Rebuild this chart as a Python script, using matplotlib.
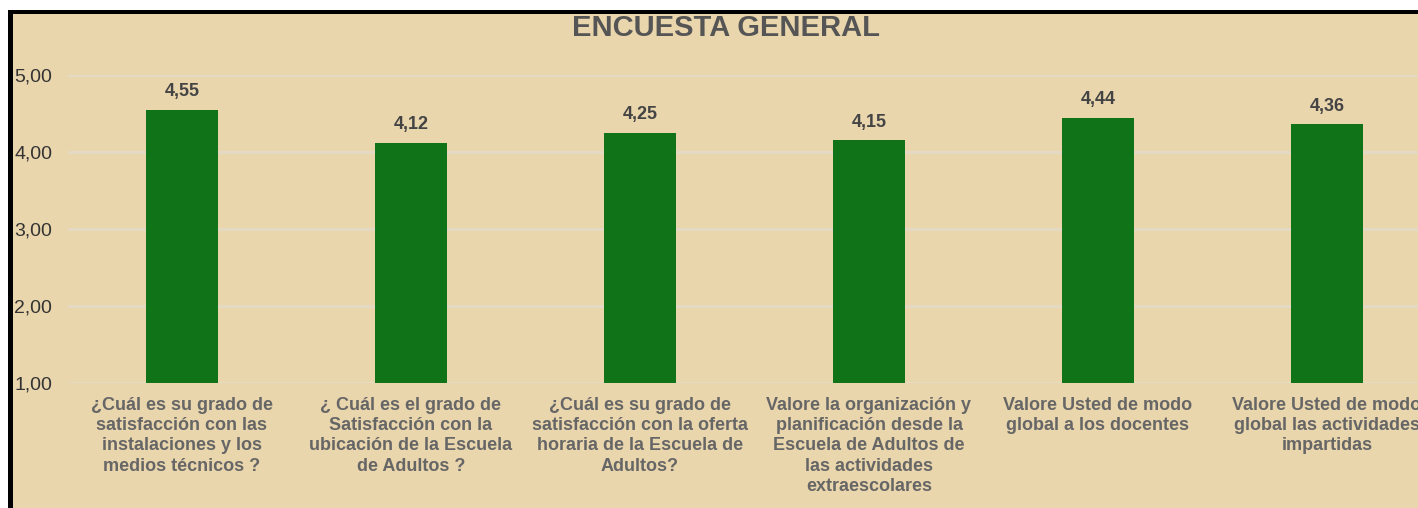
import matplotlib.pyplot as plt
from matplotlib.patches import Rectangle

categories = [
    "¿Cuál es su grado de\nsatisfacción con las\ninstalaciones y los\nmedios técnicos ?",
    "¿ Cuál es el grado de\nSatisfacción con la\nubicación de la Escuela\nde Adultos ?",
    "¿Cuál es su grado de\nsatisfacción con la oferta\nhoraria de la Escuela de\nAdultos?",
    "Valore la organización y\nplanificación desde la\nEscuela de Adultos de\nlas actividades\nextraescolares",
    "Valore Usted de modo\nglobal a los docentes",
    "Valore Usted de modo\nglobal las actividades\nimpartidas",
]
values = [4.55, 4.12, 4.25, 4.15, 4.44, 4.36]
yticks = [1, 2, 3, 4, 5]

W, H = 1418, 508
bg = "#EAD6AD"
bar_color = "#117318"
grid_color = "#E4DAC4"

plt.rcParams['font.family'] = ['Liberation Sans', 'DejaVu Sans']

fig = plt.figure(figsize=(W / 100, H / 100), dpi=100, facecolor="white")

# beige panel, then black frame strips (top and left) drawn over the title
fig.patches.append(Rectangle((8 / W, 0), 1, (H - 10) / H, transform=fig.transFigure,
                             facecolor=bg, edgecolor="none", zorder=-1))
fig.patches.append(Rectangle((8 / W, (H - 14) / H), 1, 4 / H, transform=fig.transFigure,
                             facecolor="black", edgecolor="none", zorder=3))
fig.patches.append(Rectangle((8 / W, 0), 5 / W, (H - 10) / H, transform=fig.transFigure,
                             facecolor="black", edgecolor="none", zorder=3))

# axes spans x = -0.5..5.5 over 229 px per category, value 1 at y=383, 5 at y=75
left = 67.5 / W
width = 6 * 229 / W
bottom = (H - 383) / H
height = (383 - 75) / H
ax = fig.add_axes([left, bottom, width, height])
ax.set_facecolor("none")

x = list(range(len(values)))
ax.bar(x, [v - 1 for v in values], bottom=1, width=0.315, color=bar_color, zorder=3)
ax.set_xlim(-0.5, 5.5)
ax.set_ylim(1, 5)

for xi, v in zip(x, values):
    ax.annotate(f"{v:.2f}".replace(".", ","), (xi, v), xytext=(0, 7),
                textcoords="offset points", ha="center", va="bottom",
                fontsize=13, fontweight="bold", color="#444444")

ax.set_yticks(yticks)
ax.set_yticklabels([f"{t:.2f}".replace(".", ",") for t in yticks],
                   fontsize=14, color="#333333")
for lbl in ax.get_yticklabels():
    lbl.set_horizontalalignment("left")
ax.tick_params(axis="y", length=0, pad=38.5)
ax.yaxis.grid(True, color=grid_color, linewidth=2.2, zorder=0)

ax.set_xticks(x)
ax.set_xticklabels(categories, fontsize=13, fontweight="bold", color="#666666",
                   linespacing=1.25, va="top")
ax.tick_params(axis="x", length=0, pad=10)

for s in ax.spines.values():
    s.set_visible(False)

fig.text(726 / W, (H - 36) / H, "ENCUESTA GENERAL", ha="center", va="baseline",
         fontsize=21, fontweight="bold", color="#555555", zorder=2)

fig.savefig("out.png", dpi=100, facecolor="white")
